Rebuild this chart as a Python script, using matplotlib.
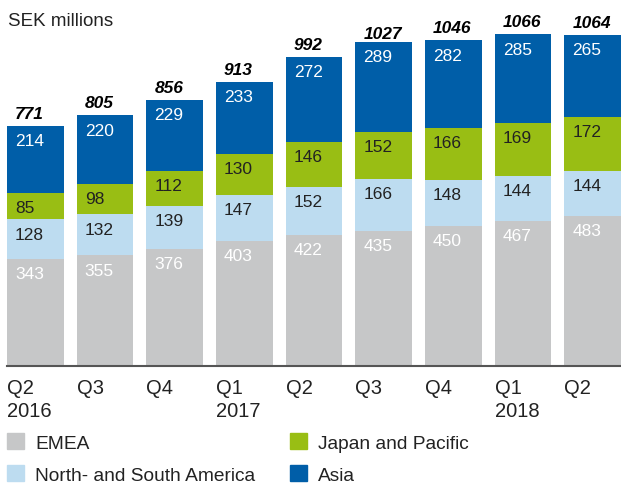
import matplotlib.pyplot as plt
from matplotlib.patches import Patch

plt.rcParams['font.family'] = ['Liberation Sans', 'DejaVu Sans']

quarters = ["Q2\n2016", "Q3", "Q4", "Q1\n2017", "Q2", "Q3", "Q4", "Q1\n2018", "Q2"]
emea = [343, 355, 376, 403, 422, 435, 450, 467, 483]
americas = [128, 132, 139, 147, 152, 166, 148, 144, 144]
japan = [85, 98, 112, 130, 146, 152, 166, 169, 172]
asia = [214, 220, 229, 233, 272, 289, 282, 285, 265]
totals = [771, 805, 856, 913, 992, 1027, 1046, 1066, 1064]

series = [
    ("EMEA", emea, "#c6c7c8", "white"),
    ("North- and South America", americas, "#bddcf0", "#222222"),
    ("Japan and Pacific", japan, "#99be14", "#222222"),
    ("Asia", asia, "#005ea8", "white"),
]

fig = plt.figure(figsize=(6.21, 4.85), dpi=100)
ax = fig.add_axes([0.0113, 0.2433, 0.9887, 0.7567])

w = 0.814
x = list(range(len(quarters)))
bottom = [0] * len(x)
for name, vals, col, tcol in series:
    ax.bar(x, vals, width=w, bottom=bottom, color=col, label=name)
    for i, v in enumerate(vals):
        top = bottom[i] + v
        ax.text(i - w / 2 + 0.115, top - 47, str(v), color=tcol,
                fontsize=12.5, ha='left', va='center')
    bottom = [b + v for b, v in zip(bottom, vals)]

for i, t in enumerate(totals):
    ax.text(i - w / 2 + 0.115, t + 40, str(t), fontsize=12.5,
            fontweight='bold', fontstyle='italic', ha='left', va='center')

ax.set_xlim(-w / 2, len(x) - 1 + w / 2)
ax.set_ylim(0, 1179)
ax.set_yticks([])
ax.set_xticks([i - w / 2 for i in x])
ax.set_xticklabels(quarters, ha='left', fontsize=14.5, linespacing=1.25)
ax.tick_params(axis='x', length=0, pad=9, colors='#222222')
for s in ['top', 'right', 'left']:
    ax.spines[s].set_visible(False)
ax.spines['bottom'].set_color('#555555')
ax.spines['bottom'].set_linewidth(1.5)

fig.text(0.013, 0.955, "SEK millions", fontsize=13.5, ha='left', va='center',
         color='#222222')

handles = [Patch(color=c) for _, _, c, _ in series]
labels = [n for n, _, _, _ in series]
fig.legend(handles, labels, ncol=2, loc='upper left',
           bbox_to_anchor=(7 / 621, (485 - 434) / 485), frameon=False,
           fontsize=13.8, handlelength=0.9, handleheight=0.9,
           handletextpad=0.58, columnspacing=1.8, labelspacing=0.7,
           borderpad=0, borderaxespad=0, labelcolor='#222222')

fig.savefig("out.png", dpi=100)
